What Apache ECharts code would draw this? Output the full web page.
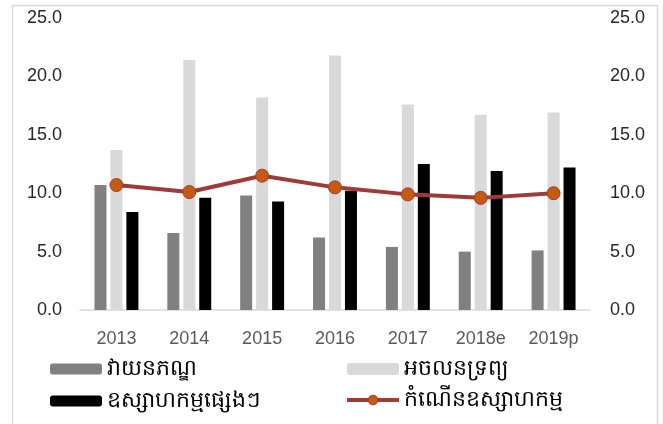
<!DOCTYPE html>
<html>
<head>
    <meta charset="utf-8">
    <title>chart</title>
    <script src="https://cdn.jsdelivr.net/npm/echarts@6/dist/echarts.min.js"></script>
    <style>
        html, body { margin: 0; padding: 0; background: #fff; }
        #chart1 { width: 663px; height: 424px; }
    </style>
</head>
<body>
<div id="chart1"></div>
<script type="text/javascript">
    // categories and values
    var years = ['2013', '2014', '2015', '2016', '2017', '2018e', '2019p'];
    var textile = [10.7, 6.6, 9.8, 6.2, 5.4, 5.0, 5.1];
    var realEstate = [13.7, 21.4, 18.2, 21.8, 17.6, 16.7, 16.9];
    var otherIndustry = [8.4, 9.6, 9.3, 10.2, 12.5, 11.9, 12.2];
    var industryGrowth = [10.7, 10.1, 11.5, 10.5, 9.9, 9.6, 10.0];

    var names = ['វាយនភណ្ឌ', 'អចលនទ្រព្យ', 'ឧស្សាហកម្មផ្សេងៗ', 'កំណើនឧស្សាហកម្ម'];
    var font = '"Liberation Sans", "Noto Sans", sans-serif';

    var myChart1 = echarts.init(document.getElementById('chart1'));

    var yAxisStyle = {
        type: 'value',
        min: 0,
        max: 25,
        interval: 5,
        splitLine: { show: false },
        axisLine: { show: false },
        axisTick: { show: false },
        axisLabel: {
            color: '#262626',
            fontSize: 18,
            fontFamily: font,
            formatter: function (v) { return v.toFixed(1); }
        }
    };

    var legendText = { fontSize: 22, lineHeight: 24, color: '#000', fontFamily: font };

    myChart1.setOption({
        animation: false,
        graphic: [{
            type: 'rect',
            shape: { x: 12.5, y: 5.5, width: 645, height: 430 },
            style: { fill: 'none', stroke: '#d9d9d9', lineWidth: 1.5 },
            silent: true
        }],
        legend: [{
            data: [names[0], names[2]],
            orient: 'vertical',
            left: 50,
            top: 357,
            padding: 0,
            itemWidth: 52,
            itemHeight: 11,
            itemGap: 8,
            textStyle: legendText
        }, {
            data: [names[1], {
                name: names[3],
                lineStyle: { width: 4 },
                itemStyle: { borderWidth: 1 }
            }],
            orient: 'vertical',
            left: 345,
            top: 357,
            padding: 0,
            itemWidth: 52,
            itemHeight: 12,
            itemGap: 7,
            textStyle: legendText
        }],
        grid: { left: 80, right: 73, top: 18, bottom: 114 },
        xAxis: {
            type: 'category',
            data: years,
            axisLine: { lineStyle: { color: '#d9d9d9', width: 1.5 } },
            axisTick: { show: false },
            axisLabel: { color: '#595959', fontSize: 18, margin: 20, fontFamily: font }
        },
        yAxis: [
            Object.assign({}, yAxisStyle, { position: 'left', axisLabel: Object.assign({}, yAxisStyle.axisLabel, { margin: 18 }) }),
            Object.assign({}, yAxisStyle, { position: 'right', axisLabel: Object.assign({}, yAxisStyle.axisLabel, { margin: 20 }) })
        ],
        series: [{
            name: names[0],
            type: 'bar',
            data: textile,
            barWidth: 12,
            barGap: '33%',
            itemStyle: { color: '#808080' }
        }, {
            name: names[1],
            type: 'bar',
            data: realEstate,
            barWidth: 12,
            itemStyle: { color: '#d9d9d9' }
        }, {
            name: names[2],
            type: 'bar',
            data: otherIndustry,
            barWidth: 12,
            itemStyle: { color: '#000000' }
        }, {
            name: names[3],
            type: 'line',
            yAxisIndex: 1,
            data: industryGrowth,
            symbol: 'circle',
            symbolSize: 13,
            lineStyle: { color: '#9e3a38', width: 4 },
            itemStyle: { color: '#c55a11', borderColor: '#9e3a38', borderWidth: 1 },
            z: 5
        }]
    });
</script>
</body>
</html>
